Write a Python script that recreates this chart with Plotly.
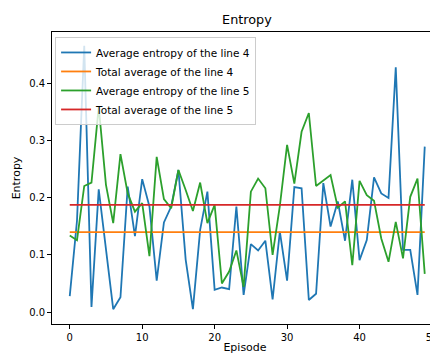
import plotly.graph_objects as go

episodes = list(range(50))
entropy_line4 = [0.028, 0.16, 0.467, 0.009, 0.215, 0.11, 0.005, 0.026, 0.22, 0.133,
                 0.233, 0.185, 0.055, 0.157, 0.185, 0.249, 0.092, 0.005, 0.144, 0.211,
                 0.039, 0.043, 0.040, 0.185, 0.030, 0.119, 0.108, 0.125, 0.022, 0.141,
                 0.055, 0.219, 0.217, 0.021, 0.032, 0.226, 0.150, 0.194, 0.125, 0.232,
                 0.091, 0.126, 0.236, 0.208, 0.200, 0.429, 0.109, 0.109, 0.030, 0.290]
entropy_line5 = [0.134, 0.126, 0.221, 0.227, 0.360, 0.223, 0.156, 0.277, 0.208, 0.176,
                 0.191, 0.098, 0.272, 0.198, 0.182, 0.249, 0.214, 0.177, 0.227, 0.156,
                 0.188, 0.050, 0.071, 0.108, 0.044, 0.211, 0.234, 0.217, 0.100, 0.186,
                 0.293, 0.225, 0.316, 0.349, 0.221, 0.230, 0.240, 0.183, 0.194, 0.082,
                 0.230, 0.205, 0.195, 0.129, 0.088, 0.158, 0.094, 0.202, 0.234, 0.067]
total_avg_line4 = 0.140
total_avg_line5 = 0.188

x_ticks = [0, 10, 20, 30, 40, 50]
y_ticks = [0.0, 0.1, 0.2, 0.3, 0.4]
y_tick_labels = ["0.0", "0.1", "0.2", "0.3", "0.4"]

FONT = "DejaVu Sans"

# the page places the figure 8px in from the top-left corner,
# so the figure is 8px smaller and everything is shifted by -8px
W, H = 430, 346

fig = go.Figure()
fig.add_trace(go.Scatter(x=episodes, y=entropy_line4, mode="lines",
                         name="Average entropy of the line 4",
                         line=dict(color="#1f77b4", width=1.8)))
fig.add_trace(go.Scatter(x=[episodes[0], episodes[-1]], y=[total_avg_line4, total_avg_line4],
                         mode="lines", name="Total average of the line 4",
                         line=dict(color="#ff7f0e", width=1.8)))
fig.add_trace(go.Scatter(x=episodes, y=entropy_line5, mode="lines",
                         name="Average entropy of the line 5",
                         line=dict(color="#2ca02c", width=1.8)))
fig.add_trace(go.Scatter(x=[episodes[0], episodes[-1]], y=[total_avg_line5, total_avg_line5],
                         mode="lines", name="Total average of the line 5",
                         line=dict(color="#d62728", width=1.8)))

fig.update_layout(
    width=W, height=H,
    margin=dict(l=43.5, r=0, t=24, b=30),
    paper_bgcolor="white", plot_bgcolor="white",
    font=dict(family=FONT, size=10, color="black"),
    title=dict(text="Entropy", font=dict(family=FONT, size=12.8, color="black"),
               x=0.505, xref="paper", xanchor="center",
               y=1 - 12 / H, yref="container", yanchor="middle"),
    showlegend=True,
    legend=dict(x=0.008, y=0.983, xanchor="left", yanchor="top",
                bgcolor="rgba(255,255,255,0.8)", bordercolor="#cccccc", borderwidth=1,
                font=dict(family=FONT, size=10.5, color="black"),
                tracegroupgap=0, itemwidth=30),
    xaxis=dict(range=[-2.45, 50.83], tickvals=x_ticks, ticks="outside", ticklen=3.9,
               tickwidth=0.9, tickcolor="black", showgrid=False, zeroline=False,
               showline=True, linecolor="black", linewidth=0.9, mirror=True,
               ticklabeloverflow="allow",
               title=dict(text="Episode", standoff=6, font=dict(family=FONT, size=11)),
               automargin=False),
    yaxis=dict(range=[-0.021, 0.491], tickvals=y_ticks, ticktext=y_tick_labels,
               ticks="outside", ticklen=3.9, tickwidth=0.9, tickcolor="black",
               showgrid=False, zeroline=False, showline=True, linecolor="black",
               linewidth=0.9, mirror=False,
               title=dict(text="Entropy", standoff=6, font=dict(family=FONT, size=11)),
               automargin=False),
)

fig.write_html("out.html")
